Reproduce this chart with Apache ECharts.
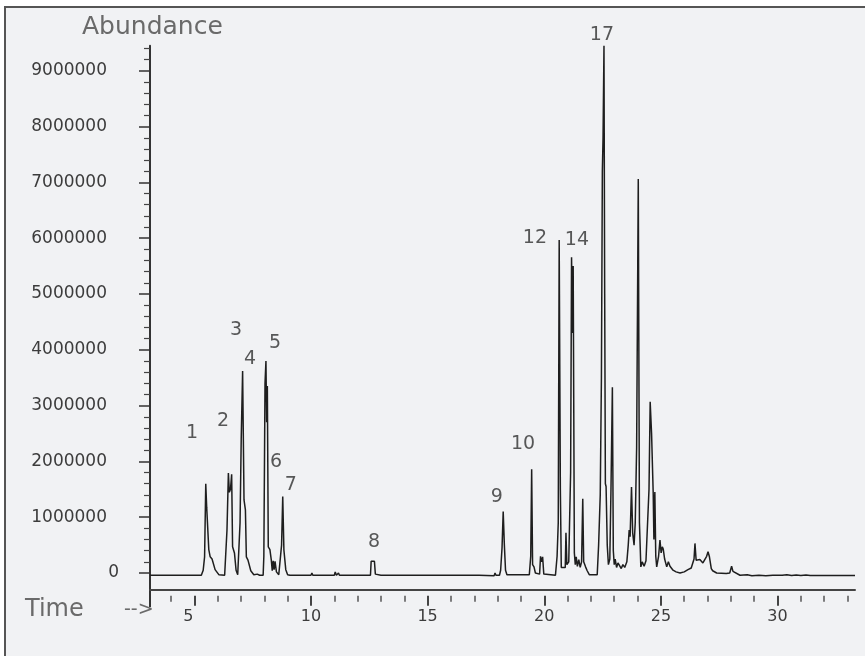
<!DOCTYPE html>
<html>
<head>
<meta charset="utf-8">
<script src="https://cdn.jsdelivr.net/npm/echarts@6/dist/echarts.min.js"></script>
<style>
  html, body { margin: 0; padding: 0; background: #ffffff; }
  #wrap { position: relative; width: 865px; height: 656px; overflow: hidden; background: #ffffff; }
  #frame { position: absolute; left: 4px; top: 6px; width: 870px; height: 660px; background: #f1f2f4; border-left: 2px solid #555; border-top: 2px solid #555; }
  #chart { position: absolute; left: 0; top: 0; width: 865px; height: 656px; }
</style>
</head>
<body>
<div id="wrap"><div id="frame"></div><div id="chart"></div></div>
<script>
// ---- Chromatogram trace (retention time in minutes, abundance in counts) ----
const retentionTime = [
  3.10, 5.30, 5.38, 5.44, 5.49, 5.53, 5.58, 5.62, 5.68, 5.76, 5.89, 6.05, 6.30,
  6.36, 6.40, 6.46, 6.50, 6.55, 6.60, 6.64, 6.72, 6.79, 6.86,
  6.92, 6.96, 7.01, 7.07, 7.13, 7.19, 7.23, 7.30, 7.42, 7.55, 7.70, 7.80, 7.95,
  7.98, 8.03, 8.07, 8.10, 8.13, 8.17, 8.24, 8.30, 8.34, 8.38, 8.42, 8.46, 8.52, 8.62,
  8.70, 8.74, 8.79, 8.84, 8.92, 9.00, 9.10,
  10.00, 10.04, 10.08, 10.24, 10.28, 10.32, 11.00, 11.04, 11.09, 11.14, 11.18, 11.22,
  11.42, 11.46, 11.50, 12.55, 12.58, 12.72, 12.76, 12.84, 13.00, 13.04, 13.08,
  17.20, 17.24, 17.85, 17.89, 17.93, 18.08, 18.13, 18.19, 18.24, 18.29, 18.34, 18.40,
  19.36, 19.42, 19.46, 19.50, 19.56, 19.62, 19.80, 19.84, 19.88, 19.93, 19.98, 20.05,
  20.48, 20.55, 20.60, 20.64, 20.69, 20.73, 20.80, 20.90, 20.93, 20.97, 21.05,
  21.13, 21.17, 21.21, 21.24, 21.29, 21.33, 21.37, 21.42, 21.48, 21.54, 21.60, 21.65,
  21.69, 21.77, 21.84, 21.93, 22.27,
  22.33, 22.40, 22.45, 22.49, 22.52, 22.56, 22.59, 22.62, 22.65, 22.70, 22.75,
  22.81, 22.86, 22.92, 22.96, 23.00, 23.04, 23.10, 23.16, 23.24, 23.30, 23.37, 23.45,
  23.54, 23.60, 23.64, 23.68, 23.74, 23.79, 23.85, 23.90, 23.96, 24.03, 24.08, 24.14,
  24.20, 24.28, 24.36, 24.44, 24.49, 24.54, 24.60, 24.67, 24.70, 24.74, 24.78, 24.82,
  24.90, 24.96, 25.01, 25.06, 25.10, 25.16, 25.25, 25.32, 25.39, 25.52, 25.65, 25.82,
  26.00, 26.16, 26.30, 26.42, 26.46, 26.51, 26.59, 26.67, 26.74, 26.80, 26.88, 26.96,
  27.02, 27.08, 27.16, 27.22, 27.39, 27.80, 27.95, 28.03, 28.09, 28.17, 28.39,
  28.70, 28.90, 29.20, 29.50, 29.80, 30.20, 30.40, 30.60, 30.80, 31.00, 31.22, 31.40, 33.32
];
const abundance = [
  -40000, -40000, 50000, 290000, 1600000, 1180000, 1160000, 420000, 290000, 250000, 60000, -30000, -40000,
  -20000, 770000, 1790000, 1450000, 1500000, 1770000, 470000, 360000, 50000, -30000,
  -20000, 900000, 2400000, 3620000, 1310000, 1130000, 290000, 230000, 40000, -30000, -20000, -40000, -40000,
  300000, 3400000, 3800000, 2700000, 3350000, 470000, 420000, 230000, 40000, 220000, 60000, 210000, 20000, -30000,
  0, 500000, 1370000, 410000, 60000, -30000, -40000,
  -40000, 0, -40000, -40000, -5000, -40000, -40000, 20000, -40000, -40000, 0, -40000,
  -40000, -5000, -40000, -40000, 210000, 210000, -20000, -40000, -40000, -5000, -40000,
  -40000, -50000, -50000, 0, -40000, -40000, 50000, 450000, 1100000, 500000, 50000, -30000,
  -30000, 300000, 1860000, 150000, 110000, 0, -20000, 300000, 200000, 290000, -20000, -40000,
  -40000, 300000, 900000, 5970000, 1500000, 100000, 80000, 100000, 720000, 150000, 200000,
  1800000, 5660000, 4300000, 5500000, 360000, 150000, 290000, 120000, 240000, 100000, 200000, 1330000,
  200000, 110000, 40000, -30000, -30000,
  500000, 1400000, 3500000, 7200000, 7800000, 9450000, 5000000, 1600000, 1550000, 500000, 150000,
  250000, 1500000, 3330000, 400000, 150000, 250000, 100000, 180000, 200000, 80000, 150000, 100000,
  200000, 500000, 770000, 650000, 1540000, 720000, 500000, 900000, 2260000, 7060000, 900000, 110000,
  200000, 120000, 220000, 200000, 1500000, 3070000, 2500000, 1430000, 600000, 1450000, 300000, 110000,
  300000, 590000, 360000, 470000, 430000, 250000, 110000, 200000, 120000, 50000, 20000, 0,
  20000, 60000, 90000, 250000, 530000, 230000, 200000, 240000, 270000, 180000, 200000, 300000,
  380000, 290000, 80000, 40000, 0, -10000, 0, 120000, 30000, 0, -40000,
  -30000, -50000, -40000, -50000, -40000, -40000, -30000, -45000, -35000, -45000, -35000, -45000, -45000
];

// ---- Peak number labels (placed in data coordinates) ----
const peakLabelText = ['1', '2', '3', '4', '5', '6', '7', '8', '9', '10', '12', '14', '17'];
const peakLabelTime = [4.90, 6.23, 6.79, 7.39, 8.46, 8.50, 9.14, 12.70, 17.97, 19.09, 19.60, 21.40, 22.47];
const peakLabelAbundance = [2510000, 2720000, 4350000, 3840000, 4120000, 1990000, 1580000, 560000, 1360000, 2310000, 6000000, 5970000, 9640000];

// ---- Axis ticks ----
const xMajorTicks = [5, 10, 15, 20, 25, 30];
const xMinorTicks = [4, 6, 7, 8, 9, 11, 12, 13, 14, 16, 17, 18, 19, 21, 22, 23, 24, 26, 27, 28, 29, 31, 32, 33];
const yMajorTicks = [0, 1000000, 2000000, 3000000, 4000000, 5000000, 6000000, 7000000, 8000000, 9000000];
const yLabelTicks = [1000000, 2000000, 3000000, 4000000, 5000000, 6000000, 7000000, 8000000, 9000000];
const yMinorTicks = [];
for (let v = 200000; v <= 9400000; v += 200000) { if (v % 1000000 !== 0) yMinorTicks.push(v); }

const FONT = 'DejaVu Sans';
const traceData = retentionTime.map((t, i) => [t, abundance[i]]);
const labelData = peakLabelTime.map((t, i) => ({ value: [t, peakLabelAbundance[i]], name: peakLabelText[i] }));

const X_MIN = 3.1, X_MAX = 33.32, Y_MIN = -300000, Y_MAX = 9450000;
const plain = v => String(v);
const TICK_TEXT = '#3c3c3c';

const chart = echarts.init(document.getElementById('chart'), null, { renderer: 'canvas' });
chart.setOption({
  animation: false,
  backgroundColor: 'transparent',
  grid: { left: 150, right: 10, top: 45.7, bottom: 66.26, containLabel: false, outerBoundsMode: 'none' },
  xAxis: [
    {
      type: 'value', position: 'bottom', min: X_MIN, max: X_MAX,
      axisLine: { show: true, onZero: false, lineStyle: { color: '#444', width: 2 } },
      axisTick: { show: false },
      splitLine: { show: false },
      axisLabel: {
        show: true, customValues: xMajorTicks, margin: 19,
        fontFamily: FONT, fontSize: 16, color: TICK_TEXT,
        formatter: v => (v === 5 ? '{a|5}' : String(v)),
        rich: { a: { fontFamily: FONT, fontSize: 16, color: TICK_TEXT, padding: [0, 12, 0, 0] } }
      }
    },
    {
      type: 'value', position: 'bottom', min: X_MIN, max: X_MAX, offset: 6,
      axisLine: { show: false, onZero: false },
      axisTick: { show: true, customValues: xMajorTicks, length: 10, lineStyle: { color: '#444', width: 2 } },
      axisLabel: { show: false },
      splitLine: { show: false }
    },
    {
      type: 'value', position: 'bottom', min: X_MIN, max: X_MAX, offset: 6,
      axisLine: { show: false, onZero: false },
      axisTick: { show: true, customValues: xMinorTicks, length: 6, lineStyle: { color: '#555', width: 1.5 } },
      axisLabel: { show: false },
      splitLine: { show: false }
    }
  ],
  yAxis: [
    {
      type: 'value', position: 'left', min: Y_MIN, max: Y_MAX,
      axisLine: { show: true, onZero: false, lineStyle: { color: '#333', width: 2 } },
      axisTick: { show: true, customValues: yMajorTicks, length: 11, lineStyle: { color: '#333', width: 1.5 } },
      axisLabel: { show: true, customValues: yLabelTicks, margin: 43, fontFamily: FONT, fontSize: 17, color: TICK_TEXT, formatter: plain },
      splitLine: { show: false }
    },
    {
      type: 'value', position: 'left', min: Y_MIN, max: Y_MAX, offset: 0,
      axisLine: { show: false, onZero: false },
      axisTick: { show: true, customValues: yMinorTicks, length: 6, lineStyle: { color: '#444', width: 1.2 } },
      axisLabel: { show: true, customValues: [0], margin: 31, fontFamily: FONT, fontSize: 17, color: TICK_TEXT, formatter: plain },
      splitLine: { show: false }
    }
  ],
  series: [
    {
      type: 'line', xAxisIndex: 0, yAxisIndex: 0,
      data: traceData, symbol: 'none',
      lineStyle: { color: '#1e1e1e', width: 1.5 },
      silent: true, z: 3
    },
    {
      type: 'scatter', xAxisIndex: 0, yAxisIndex: 0,
      data: labelData, symbolSize: 0, clip: false, silent: true,
      label: {
        show: true, position: 'inside', formatter: p => p.name,
        fontFamily: FONT, fontSize: 19, color: '#303030'
      },
      z: 4
    }
  ],
  graphic: [
    { type: 'line', shape: { x1: 150, y1: 589, x2: 150, y2: 607 }, style: { stroke: '#333', lineWidth: 2 }, silent: true },
    { type: 'text', left: 82, top: 15, style: { text: 'Abundance', font: '25px "DejaVu Sans"', fill: '#6a6a6a' }, silent: true },
    { type: 'text', left: 25, top: 598, style: { text: 'Time', font: '24px "DejaVu Sans"', fill: '#6a6a6a' }, silent: true },
    { type: 'text', left: 124, top: 601, style: { text: '-->', font: '19px "DejaVu Sans"', fill: '#6a6a6a' }, silent: true }
  ]
});
</script>
</body>
</html>
